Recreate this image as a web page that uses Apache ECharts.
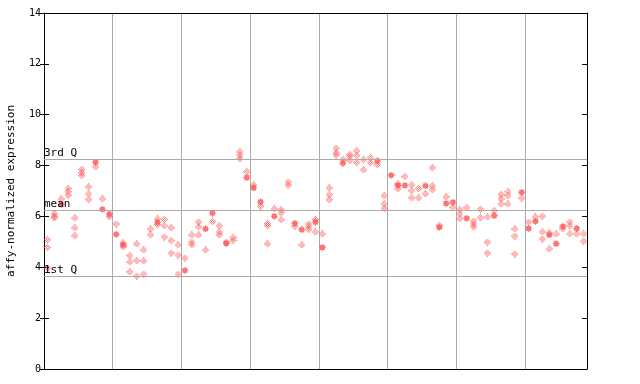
<!DOCTYPE html>
<html>
<head>
<meta charset="utf-8">
<script src="https://cdn.jsdelivr.net/npm/echarts@6/dist/echarts.min.js"></script>
<style>
html,body{margin:0;padding:0;background:#fff;}
#chart{width:640px;height:384px;}
</style>
</head>
<body>
<div id="chart"></div>
<script>
// ---- data ----
const columnCount = 79;
const yTicks = [0, 2, 4, 6, 8, 10, 12, 14];
const quartileLabels = ['3rd Q', 'mean', '1st Q'];
const quartileValues = [8.23, 6.23, 3.63];
const yAxisTitle = 'affy-normalized expression';

// hatched (open) markers, per column
const hatchedValues = [
  [5.09,4.78,3.97],[6.11,6.0,5.94],[6.69],[7.10,6.97,6.83],[5.94,5.55,5.24],
  [7.85,7.72,7.61],[7.16,6.89,6.66],[7.95],[6.69],[5.98],
  [5.70],[4.96,4.80],[4.46,4.21,3.82],[4.92,4.26,3.65],[4.68,4.25,3.73],
  [5.51,5.27],[5.90,5.68],[5.88,5.63,5.19],[5.55,5.05,4.56],[4.88,4.48,3.73],
  [4.36],[5.27,4.99,4.88],[5.78,5.59,5.27],[4.68],[5.80],
  [5.63,5.39,5.27],[4.99],[5.17,5.06],[8.54,8.41,8.27],[7.76],
  [7.24],[6.40],[5.72,5.64,4.92],[6.30],[6.27,6.14,5.86],
  [7.35,7.23],[5.61],[4.88],[5.70,5.59,5.48],[5.88,5.39],
  [5.31],[7.12,6.85,6.66],[8.68,8.50,8.41],[8.24],[8.44,8.35,8.20],
  [8.58,8.40,8.12],[8.23,7.83],[8.31,8.11],[8.04],[6.81,6.49,6.31],
  [],[7.28,7.08],[7.57],[7.24,7.01,6.73],[7.10,6.73],
  [6.89],[7.91,7.20,7.05],[5.65],[6.77],[6.36],
  [6.27,6.10,5.91],[6.34],[5.82,5.70,5.59],[6.28,5.95],[5.98,4.99,4.56],
  [6.23],[6.86,6.69,6.49],[6.97,6.81,6.49],[5.51,5.23,4.52],[6.72],
  [5.78],[5.98],[6.01,5.39,5.11],[5.35,4.72],[5.31],
  [5.51],[5.78,5.63,5.31],[5.31],[5.31,5.03]
];
// filled markers, per column (null = none)
const filledValues = [
  null,null,6.47,null,null,null,null,8.14,6.28,6.09,
  5.30,4.88,null,null,null,null,5.77,null,null,null,
  3.88,null,null,5.51,6.13,null,4.94,null,null,7.53,
  7.12,6.57,null,6.01,null,null,5.73,5.48,null,5.78,
  4.78,null,null,8.10,null,null,null,null,8.18,null,
  7.62,7.22,7.22,null,null,7.20,null,5.57,6.51,6.56,
  null,5.93,null,null,null,6.03,null,null,null,6.95,
  5.53,5.81,null,5.27,4.93,5.61,null,5.53,null
];

// ---- styling ----
const RED = '#ff5050';
const FONT = 'DejaVu Sans Mono';
function makeSymbol(rows) {
  const c = document.createElement('canvas');
  c.width = 7; c.height = 7;
  const ctx = c.getContext('2d');
  ctx.fillStyle = RED;
  rows.forEach((r, y) => { for (let x = 0; x < r.length; x++) if (r[x] === 'X') ctx.fillRect(x, y, 1, 1); });
  return 'image://' + c.toDataURL();
}
const hatchSym = makeSymbol([
  '...X...',
  '..X.X..',
  '.X.X.X.',
  'X.X.X.X',
  '.X.X.X.',
  '..X.X..',
  '...X...'
]);
const fillSym = makeSymbol([
  '...X...',
  '.XXXXX.',
  '.XXXXX.',
  'XXXXXXX',
  '.XXXXX.',
  '.XXXXX.',
  '...X...'
]);

const hatchedData = [];
hatchedValues.forEach((vals, i) => vals.forEach(v => hatchedData.push([i + 0.5, v])));
const filledData = [];
filledValues.forEach((v, i) => { if (v !== null) filledData.push([i + 0.5, v]); });

const chart = echarts.init(document.getElementById('chart'), null, {renderer: 'canvas'});
const grid = {left: 44, right: 53, top: 13, bottom: 15, containLabel: false, outerBoundsMode: 'none'};
chart.setOption({
  animation: false,
  backgroundColor: '#fff',
  grid: grid,
  xAxis: [{
    type: 'value', min: 0, max: columnCount, interval: 10,
    axisLine: {show: true, onZero: false, lineStyle: {color: '#000', width: 1}},
    axisTick: {show: false}, axisLabel: {show: false},
    splitLine: {show: true, lineStyle: {color: '#aaaaaa', width: 1}}
  }, {
    type: 'value', position: 'top', min: 0, max: columnCount,
    axisLine: {show: true, onZero: false, lineStyle: {color: '#000', width: 1}},
    axisTick: {show: false}, axisLabel: {show: false}, splitLine: {show: false}
  }],
  yAxis: [{
    type: 'value', min: yTicks[0], max: yTicks[yTicks.length - 1], interval: 2,
    position: 'left',
    name: yAxisTitle, nameLocation: 'middle', nameGap: 27, nameRotate: 90,
    nameTextStyle: {fontFamily: FONT, fontSize: 11, color: '#000'},
    axisLine: {show: true, onZero: false, lineStyle: {color: '#000', width: 1}},
    axisTick: {show: true, length: 4, lineStyle: {color: '#000'}},
    axisLabel: {fontFamily: FONT, fontSize: 10, color: '#000', margin: 3},
    splitLine: {show: false}
  }, {
    type: 'value', min: yTicks[0], max: yTicks[yTicks.length - 1], interval: 2,
    position: 'left',
    axisLine: {show: false},
    axisTick: {show: true, inside: true, length: 5, lineStyle: {color: '#000'}},
    axisLabel: {show: false}, splitLine: {show: false}
  }, {
    type: 'value', min: yTicks[0], max: yTicks[yTicks.length - 1], interval: 2,
    position: 'right',
    axisLine: {show: true, onZero: false, lineStyle: {color: '#000', width: 1}},
    axisTick: {show: true, inside: true, length: 5, lineStyle: {color: '#000'}},
    axisLabel: {show: false}, splitLine: {show: false}
  }],
  series: [{
    type: 'scatter', xAxisIndex: 0, yAxisIndex: 0,
    symbol: hatchSym, symbolSize: 7, data: hatchedData, silent: true, z: 3,
    markLine: {
      silent: true, symbol: 'none',
      lineStyle: {color: '#aaaaaa', width: 1, type: 'solid'},
      label: {show: true, position: 'insideStartTop', distance: [0, 1],
        fontFamily: FONT, fontSize: 11, color: '#000', formatter: p => p.name, padding: 0},
      data: quartileValues.map((v, i) => ({name: quartileLabels[i], yAxis: v}))
    }
  }, {
    type: 'scatter', xAxisIndex: 0, yAxisIndex: 0,
    symbol: fillSym, symbolSize: 7, data: filledData, silent: true, z: 4
  }]
});
</script>
</body>
</html>
